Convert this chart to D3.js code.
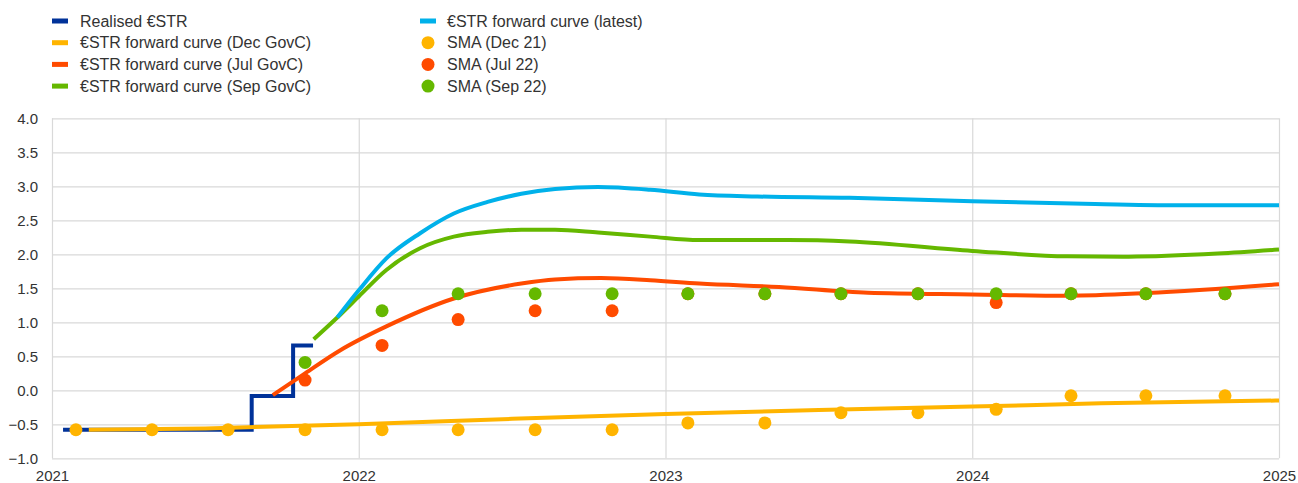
<!DOCTYPE html>
<html>
<head>
<meta charset="utf-8">
<script src="https://cdn.jsdelivr.net/npm/d3@7"></script>
<style>
  html, body { margin: 0; padding: 0; background: #fff; }
  svg { display: block; font-family: "Liberation Sans", Arial, sans-serif; }
  .grid line { stroke: #d9d9d9; stroke-width: 1.2; }
  .grid text { fill: #333; font-size: 15px; }
</style>
</head>
<body>
<div id="chart"></div>
<script>
// --- data (x in decimal years) ---
const yearTicks = [2021, 2022, 2023, 2024, 2025];
const rateTicks = [-1, -0.5, 0, 0.5, 1, 1.5, 2, 2.5, 3, 3.5, 4];

const realisedX = [2021.036, 2021.651, 2021.786, 2021.851];
const realisedY = [-0.58, -0.085, 0.66, 0.66];

const decCurveX = [2021.12, 2021.5, 2022.0, 2022.5, 2023.0, 2023.5, 2024.0, 2024.42, 2025.0];
const decCurveY = [-0.58, -0.56, -0.50, -0.42, -0.35, -0.29, -0.24, -0.19, -0.15];

const julCurveX = [2021.72, 2021.825, 2021.94, 2022.09, 2022.31, 2022.53, 2022.64, 2022.79, 2022.95, 2023.11, 2023.37, 2023.66, 2024.0, 2024.31, 2024.57, 2025.0];
const julCurveY = [-0.07, 0.25, 0.59, 0.94, 1.35, 1.57, 1.63, 1.65, 1.62, 1.57, 1.52, 1.435, 1.41, 1.39, 1.43, 1.56];

const sepCurveX = [2021.853, 2021.93, 2022.0, 2022.09, 2022.2, 2022.31, 2022.42, 2022.53, 2022.64, 2022.78, 2022.95, 2023.11, 2023.4, 2023.6, 2024.0, 2024.31, 2024.51, 2024.8, 2025.0];
const sepCurveY = [0.75, 1.07, 1.38, 1.77, 2.09, 2.26, 2.33, 2.36, 2.36, 2.32, 2.26, 2.21, 2.21, 2.19, 2.05, 1.97, 1.965, 2.01, 2.07];

const latestCurveX = [2021.93, 2022.0, 2022.09, 2022.2, 2022.31, 2022.42, 2022.53, 2022.64, 2022.78, 2022.95, 2023.11, 2023.3, 2023.6, 2024.0, 2024.4, 2024.7, 2025.0];
const latestCurveY = [1.07, 1.47, 1.94, 2.31, 2.60, 2.77, 2.89, 2.96, 2.99, 2.95, 2.88, 2.85, 2.83, 2.78, 2.74, 2.72, 2.72];

const smaX = [2021.078, 2021.326, 2021.574, 2021.825, 2022.076, 2022.324, 2022.575, 2022.826,
              2023.073, 2023.324, 2023.572, 2023.823, 2024.078, 2024.322, 2024.566, 2024.824];
const smaDec21 = [-0.58, -0.58, -0.58, -0.58, -0.58, -0.58, -0.58, -0.58, -0.48, -0.48, -0.33, -0.33, -0.28, -0.08, -0.08, -0.08];
// Jul 22 and Sep 22 surveys start at the 4th date
const smaJul22 = [0.15, 0.66, 1.04, 1.17, 1.17, 1.42, 1.42, 1.42, 1.42, 1.29, 1.42, 1.42, 1.42];
const smaSep22 = [0.41, 1.17, 1.42, 1.42, 1.42, 1.42, 1.42, 1.42, 1.42, 1.42, 1.42, 1.42, 1.42];

const colors = {
    realised: '#003299',
    latest: '#00b1ea',
    dec: '#ffb400',
    jul: '#ff4b00',
    sep: '#65b800'
};

(function () {
    'use strict';

    // --- layout ---
    const W = 1298, H = 483;
    const plotLeft = 52, plotRight = 1279, plotTop = 118.3, plotBottom = 458.3;

    const svg = d3.select('#chart').append('svg')
        .attr('width', W)
        .attr('height', H);

    svg.append('rect').attr('width', W).attr('height', H).attr('fill', '#fff');

    const x = d3.scaleLinear().domain([2021, 2025]).range([plotLeft, plotRight]);
    const y = d3.scaleLinear().domain([-1, 4]).range([plotBottom, plotTop]);

    // horizontal grid + y labels
    const yAxis = svg.append('g')
        .attr('class', 'grid')
        .attr('transform', `translate(${plotLeft},0)`)
        .call(d3.axisLeft(y)
            .tickValues(rateTicks)
            .tickFormat(d3.format('.1f'))
            .tickSize(-(plotRight - plotLeft))
            .tickPadding(14));
    yAxis.select('.domain').remove();
    yAxis.selectAll('text').attr('dy', '0.36em');

    // vertical grid + x labels
    const xAxis = svg.append('g')
        .attr('class', 'grid')
        .attr('transform', `translate(0,${plotBottom})`)
        .call(d3.axisBottom(x)
            .tickValues(yearTicks)
            .tickFormat(d3.format('d'))
            .tickSize(-(plotBottom - plotTop))
            .tickPadding(12));
    xAxis.select('.domain').remove();

    // --- lines ---
    function zip(xs, ys) { return xs.map((v, i) => [v, ys[i]]); }

    const smooth = d3.line().x(d => x(d[0])).y(d => y(d[1])).curve(d3.curveMonotoneX);
    const step = d3.line().x(d => x(d[0])).y(d => y(d[1])).curve(d3.curveStepAfter);

    const lines = svg.append('g').attr('fill', 'none').attr('stroke-width', 4)
        .attr('stroke-linejoin', 'round');

    lines.append('path').attr('d', step(zip(realisedX, realisedY))).attr('stroke', colors.realised)
        .attr('stroke-linejoin', 'miter');
    lines.append('path').attr('d', smooth(zip(decCurveX, decCurveY))).attr('stroke', colors.dec);
    lines.append('path').attr('d', smooth(zip(julCurveX, julCurveY))).attr('stroke', colors.jul);
    lines.append('path').attr('d', smooth(zip(sepCurveX, sepCurveY))).attr('stroke', colors.sep);
    lines.append('path').attr('d', smooth(zip(latestCurveX, latestCurveY))).attr('stroke', colors.latest);

    // --- SMA dots ---
    function dots(xs, ys, color) {
        svg.append('g').selectAll('circle')
            .data(zip(xs, ys))
            .join('circle')
            .attr('cx', d => x(d[0]))
            .attr('cy', d => y(d[1]))
            .attr('r', 6.5)
            .attr('fill', color);
    }
    dots(smaX, smaDec21, colors.dec);
    dots(smaX.slice(3), smaJul22, colors.jul);
    dots(smaX.slice(3), smaSep22, colors.sep);

    // --- legend ---
    const legendLeft = [
        { label: 'Realised €STR', color: colors.realised, type: 'line' },
        { label: '€STR forward curve (Dec GovC)', color: colors.dec, type: 'line' },
        { label: '€STR forward curve (Jul GovC)', color: colors.jul, type: 'line' },
        { label: '€STR forward curve (Sep GovC)', color: colors.sep, type: 'line' }
    ];
    const legendRight = [
        { label: '€STR forward curve (latest)', color: colors.latest, type: 'line' },
        { label: 'SMA (Dec 21)', color: colors.dec, type: 'dot' },
        { label: 'SMA (Jul 22)', color: colors.jul, type: 'dot' },
        { label: 'SMA (Sep 22)', color: colors.sep, type: 'dot' }
    ];

    function legend(items, x0, textX) {
        const g = svg.append('g');
        items.forEach((it, i) => {
            const cy = 21 + i * 21.7;
            if (it.type === 'line') {
                g.append('rect').attr('x', x0).attr('y', cy - 2.5).attr('width', 16).attr('height', 5)
                    .attr('fill', it.color);
            } else {
                g.append('circle').attr('cx', x0 + 8).attr('cy', cy).attr('r', 6.5).attr('fill', it.color);
            }
            g.append('text').attr('x', textX).attr('y', cy).attr('dy', '0.36em')
                .attr('font-size', 16).attr('fill', '#333').text(it.label);
        });
    }
    legend(legendLeft, 52, 80);
    legend(legendRight, 420, 447);
})();
</script>
</body>
</html>
